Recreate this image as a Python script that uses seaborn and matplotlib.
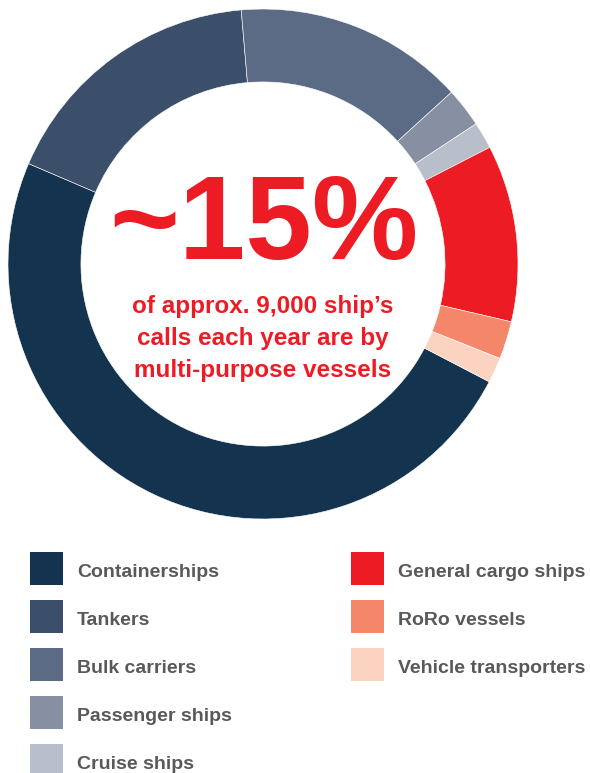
"""
Ship calls by vessel type - donut chart with highlight text.
"""

import matplotlib.pyplot as plt
import seaborn as sns
from matplotlib.patches import Rectangle

# Share of ship calls by vessel type (%)
VESSEL_TYPES = [
    "Containerships", "Tankers", "Bulk carriers", "Passenger ships",
    "Cruise ships", "General cargo ships", "RoRo vessels", "Vehicle transporters",
]
SHARES = [48.8, 17.2, 14.6, 2.5, 1.7, 11.2, 2.4, 1.6]
COLORS = [
    "#13334F", "#3B4F6B", "#5C6B85", "#8790A3",
    "#B8BFCB", "#ED1C24", "#F4866A", "#FCD3C1",
]
HEADLINE = "~15%"
SUBTEXT = ["of approx. 9,000 ship\u2019s", "calls each year are by", "multi-purpose vessels"]

RED = "#ED1C24"
GREY_TEXT = "#58595B"
W, H = 590, 773

sns.set_theme(style="white")
plt.rcParams["font.family"] = ["Liberation Sans", "DejaVu Sans"]

fig = plt.figure(figsize=(W / 100, H / 100), dpi=100)
fig.patch.set_facecolor("white")


def fx(px):
    return px / W


def fy(py):
    return 1 - py / H


# ---------------------------------------------------------------------------
# Donut
# ---------------------------------------------------------------------------
cx, cy, r = 263, 264, 255
ax = fig.add_axes([fx(cx - r), fy(cy + r), 2 * r / W, 2 * r / H])
ax.pie(
    SHARES,
    colors=COLORS,
    startangle=-27.5,
    counterclock=False,
    radius=1.0,
    wedgeprops={"width": 0.286, "edgecolor": "white", "linewidth": 0.4},
)
ax.set_xlim(-1, 1)
ax.set_ylim(-1, 1)
ax.set_aspect("equal")
ax.axis("off")

# Centre text
fig.text(fx(264), fy(259), HEADLINE, ha="center", va="baseline",
         fontsize=86, fontweight="bold", color=RED)
for i, line in enumerate(SUBTEXT):
    fig.text(fx(263), fy(313 + 32 * i), line, ha="center", va="baseline",
             fontsize=17.5, fontweight="bold", color=RED)

# ---------------------------------------------------------------------------
# Legend (5 items left column, 3 right column)
# ---------------------------------------------------------------------------
for i, (label, color) in enumerate(zip(VESSEL_TYPES, COLORS)):
    col, row = (0, i) if i < 5 else (1, i - 5)
    sq_x = 30 + col * 321
    sq_y = 552 + row * 48
    fig.patches.append(Rectangle((fx(sq_x), fy(sq_y + 33)), 33 / W, 33 / H,
                                 transform=fig.transFigure, facecolor=color,
                                 edgecolor="none"))
    fig.text(fx(sq_x + 47), fy(sq_y + 25), label, ha="left", va="baseline",
             fontsize=14, fontweight="bold", color=GREY_TEXT)

fig.savefig("out.png", dpi=100, facecolor="white")
